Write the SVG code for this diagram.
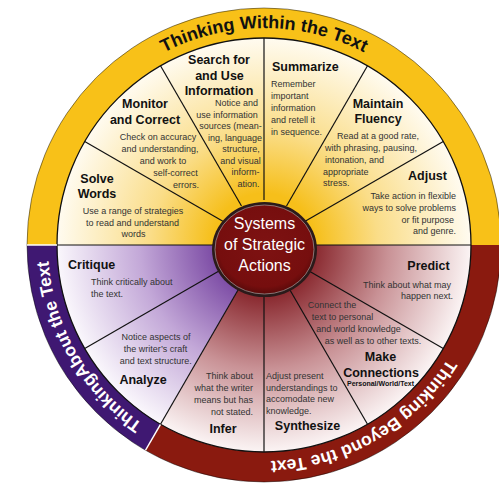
<svg xmlns="http://www.w3.org/2000/svg" width="499" height="484" viewBox="0 0 499 484">
<defs>
<radialGradient id="gY" gradientUnits="userSpaceOnUse" cx="264" cy="245" r="207">
<stop offset="0.25" stop-color="#F6BF1A"/><stop offset="0.55" stop-color="#FADD88"/><stop offset="1" stop-color="#FFFBF0"/>
</radialGradient>
<radialGradient id="gP" gradientUnits="userSpaceOnUse" cx="264" cy="245" r="207">
<stop offset="0.25" stop-color="#7E4EA6"/><stop offset="0.6" stop-color="#C3A8D8"/><stop offset="1" stop-color="#FAF7FC"/>
</radialGradient>
<radialGradient id="gM" gradientUnits="userSpaceOnUse" cx="264" cy="245" r="207">
<stop offset="0.25" stop-color="#8A2A30"/><stop offset="0.6" stop-color="#C99296"/><stop offset="1" stop-color="#FBF4F4"/>
</radialGradient>
<radialGradient id="gC" cx="0.5" cy="0.45" r="0.55">
<stop offset="0" stop-color="#7E1212"/><stop offset="0.85" stop-color="#760E0E"/><stop offset="1" stop-color="#5A0A0A"/>
</radialGradient>
<path id="tpY" d="M110.6,91.6 A217,217 0 0 1 417.4,91.6"/>
<path id="tpP" d="M226.5,457.7 A216,216 0 0 1 61,171.1"/>
<path id="tpM" d="M476.7,282.5 A216,216 0 0 1 190.1,448"/>
</defs>
<style>
.h{font-family:"Liberation Sans",Arial,sans-serif;font-weight:bold;font-size:12.5px;fill:#111;text-anchor:middle}
.hs{font-family:"Liberation Sans",Arial,sans-serif;font-weight:bold;font-size:7px;fill:#111;text-anchor:middle}
.b{font-family:"Liberation Sans",Arial,sans-serif;font-size:9px;fill:#333;text-anchor:middle}
.s{text-anchor:start}
.e{text-anchor:end}
.ring{font-family:"Liberation Sans",Arial,sans-serif;font-weight:bold;text-anchor:middle}
.spoke{stroke:#111;stroke-width:1.2;fill:none}
.ctr{font-family:"Liberation Sans",Arial,sans-serif;font-size:16px;fill:#fff;text-anchor:middle}
</style>

<g id="wheel">
<path d="M57,245 A207,207 0 0 1 471,245 Z" fill="url(#gY)"/>
<path d="M264,245 L57,245 A207,207 0 0 0 160.5,424.26 Z" fill="url(#gP)"/>
<path d="M264,245 L160.5,424.26 A207,207 0 0 0 471,245 Z" fill="url(#gM)"/>
</g>

<g id="ring-within">
<path d="M27,245 A237,237 0 0 1 501,245 L471,245 A207,207 0 0 0 57,245 Z" fill="#F8C118"/>
<text class="ring" font-size="18" fill="#111"><textPath href="#tpY" startOffset="50%">Thinking Within the Text</textPath></text>
</g>
<g id="ring-about">
<path d="M27,245 A237,237 0 0 0 145.5,450.25 L160.5,424.26 A207,207 0 0 1 57,245 Z" fill="#3F1872"/>
<text class="ring" font-size="17.5" fill="#fff"><textPath href="#tpP" startOffset="50%">ThinkingAbout the Text</textPath></text>
</g>
<g id="ring-beyond">
<path d="M501,245 A237,237 0 0 1 145.5,450.25 L160.5,424.26 A207,207 0 0 0 471,245 Z" fill="#8A1A0F"/>
<text class="ring" font-size="17.5" fill="#fff"><textPath href="#tpM" startOffset="50%">Thinking Beyond the Text</textPath></text>
</g>
<g id="ring-edges" fill="none">
<circle cx="264" cy="245" r="207" stroke="#111" stroke-width="1.3"/>
<circle cx="264" cy="245" r="237" stroke="#000" stroke-opacity="0.45" stroke-width="1"/>
<line x1="27" y1="245" x2="57" y2="245" stroke="#fff" stroke-width="1.5"/>
<line x1="145.5" y1="450.25" x2="160.5" y2="424.26" stroke="#fff" stroke-width="1.5"/>
</g>

<g id="connectors">
<line class="spoke" x1="309" y1="245" x2="471" y2="245"/>
<line class="spoke" x1="302.97" y1="222.5" x2="443.27" y2="141.5"/>
<line class="spoke" x1="286.5" y1="206.03" x2="367.5" y2="65.74"/>
<line class="spoke" x1="264" y1="200" x2="264" y2="38"/>
<line class="spoke" x1="241.5" y1="206.03" x2="160.5" y2="65.74"/>
<line class="spoke" x1="225.03" y1="222.5" x2="84.73" y2="141.5"/>
<line class="spoke" x1="219" y1="245" x2="57" y2="245"/>
<line class="spoke" x1="225.03" y1="267.5" x2="84.73" y2="348.5"/>
<line class="spoke" x1="241.5" y1="283.97" x2="160.5" y2="424.26"/>
<line class="spoke" x1="264" y1="290" x2="264" y2="452"/>
<line class="spoke" x1="286.5" y1="283.97" x2="367.5" y2="424.26"/>
<line class="spoke" x1="302.97" y1="267.5" x2="443.27" y2="348.5"/>
</g>

<g id="center">
<ellipse cx="264.5" cy="249.5" rx="52.5" ry="47.5" fill="#2B1A1A"/>
<ellipse cx="264.5" cy="249.5" rx="49.5" ry="44.5" fill="url(#gC)" stroke="#9A8A8A" stroke-width="0.8"/>
<text class="ctr" x="264.5" y="229">Systems</text>
<text class="ctr" x="264.5" y="250">of Strategic</text>
<text class="ctr" x="264.5" y="271">Actions</text>
</g>

<g id="solve-words">
<text class="h" x="97" y="182.5">Solve</text>
<text class="h" x="97" y="198">Words</text>
<text class="b" x="133" y="213.5">Use a range of strategies</text>
<text class="b" x="132.5" y="225.5">to read and understand</text>
<text class="b" x="133.5" y="237">words</text>
</g>

<g id="monitor-correct">
<text class="h" x="145" y="108">Monitor</text>
<text class="h" x="145" y="124">and Correct</text>
<text class="b" x="158" y="140.3">Check on accuracy</text>
<text class="b" x="160" y="152">and understanding,</text>
<text class="b" x="163" y="164">and work to</text>
<text class="b" x="175.5" y="176">self-correct</text>
<text class="b" x="186" y="187.5">errors.</text>
</g>

<g id="search-use">
<text class="h" x="219" y="64">Search for</text>
<text class="h" x="219.5" y="79.5">and Use</text>
<text class="h" x="219" y="95">Information</text>
<text class="b" x="236.5" y="106">Notice and</text>
<text class="b" x="227" y="117.7">use information</text>
<text class="b" x="230.5" y="129">sources (mean-</text>
<text class="b" x="235" y="140.5">ing, language</text>
<text class="b" x="241" y="152">structure,</text>
<text class="b" x="240.5" y="163.7">and visual</text>
<text class="b" x="245.5" y="175">inform-</text>
<text class="b" x="248.5" y="186.5">ation.</text>
</g>

<g id="summarize">
<text class="h s" x="272" y="70.5">Summarize</text>
<text class="b s" x="271" y="87.3">Remember</text>
<text class="b s" x="271" y="99.3">important</text>
<text class="b s" x="271" y="111.3">information</text>
<text class="b s" x="271" y="123.3">and retell it</text>
<text class="b s" x="271" y="135">in sequence.</text>
</g>

<g id="maintain-fluency">
<text class="h" x="378" y="107.7">Maintain</text>
<text class="h" x="378" y="122.7">Fluency</text>
<text class="b s" x="337" y="139.3">Read at a good rate,</text>
<text class="b s" x="325" y="150.8">with phrasing, pausing,</text>
<text class="b s" x="325" y="163.3">intonation, and</text>
<text class="b s" x="323" y="175">appropriate</text>
<text class="b s" x="323" y="186">stress.</text>
</g>

<g id="adjust">
<text class="h" x="427.5" y="180">Adjust</text>
<text class="b e" x="456" y="199.3">Take action in flexible</text>
<text class="b e" x="456" y="211">ways to solve problems</text>
<text class="b e" x="454" y="222.7">or fit purpose</text>
<text class="b e" x="456" y="234.3">and genre.</text>
</g>

<g id="critique">
<text class="h s" x="68" y="269.3">Critique</text>
<text class="b s" x="91" y="285.3">Think critically about</text>
<text class="b s" x="91" y="297">the text.</text>
</g>

<g id="analyze">
<text class="b" x="156" y="340">Notice aspects of</text>
<text class="b" x="155.5" y="352">the writer’s craft</text>
<text class="b" x="155.7" y="363.7">and text structure.</text>
<text class="h" x="143" y="384">Analyze</text>
</g>

<g id="infer">
<text class="b e" x="253" y="379.3">Think about</text>
<text class="b e" x="253" y="391.3">what the writer</text>
<text class="b e" x="253" y="403">means but has</text>
<text class="b e" x="253" y="414.7">not stated.</text>
<text class="h" x="223" y="432.5">Infer</text>
</g>

<g id="synthesize">
<text class="b s" x="266" y="378.7">Adjust present</text>
<text class="b s" x="266" y="390.7">understandings to</text>
<text class="b s" x="266" y="402">accomodate new</text>
<text class="b s" x="266" y="413.7">knowledge.</text>
<text class="h" x="307.5" y="429.5">Synthesize</text>
</g>

<g id="make-connections">
<text class="b" x="332" y="308">Connect the</text>
<text class="b" x="342.5" y="320.3">text to personal</text>
<text class="b" x="358.5" y="332">and world knowledge</text>
<text class="b" x="373" y="343.7">as well as to other texts.</text>
<text class="h" x="380.5" y="361.3">Make</text>
<text class="h" x="381" y="376.5">Connections</text>
<text class="hs" x="380.5" y="386">Personal/World/Text</text>
</g>

<g id="predict">
<text class="h" x="428.5" y="270">Predict</text>
<text class="b e" x="451" y="287.7">Think about what may</text>
<text class="b e" x="453" y="298.5">happen next.</text>
</g>
</svg>
